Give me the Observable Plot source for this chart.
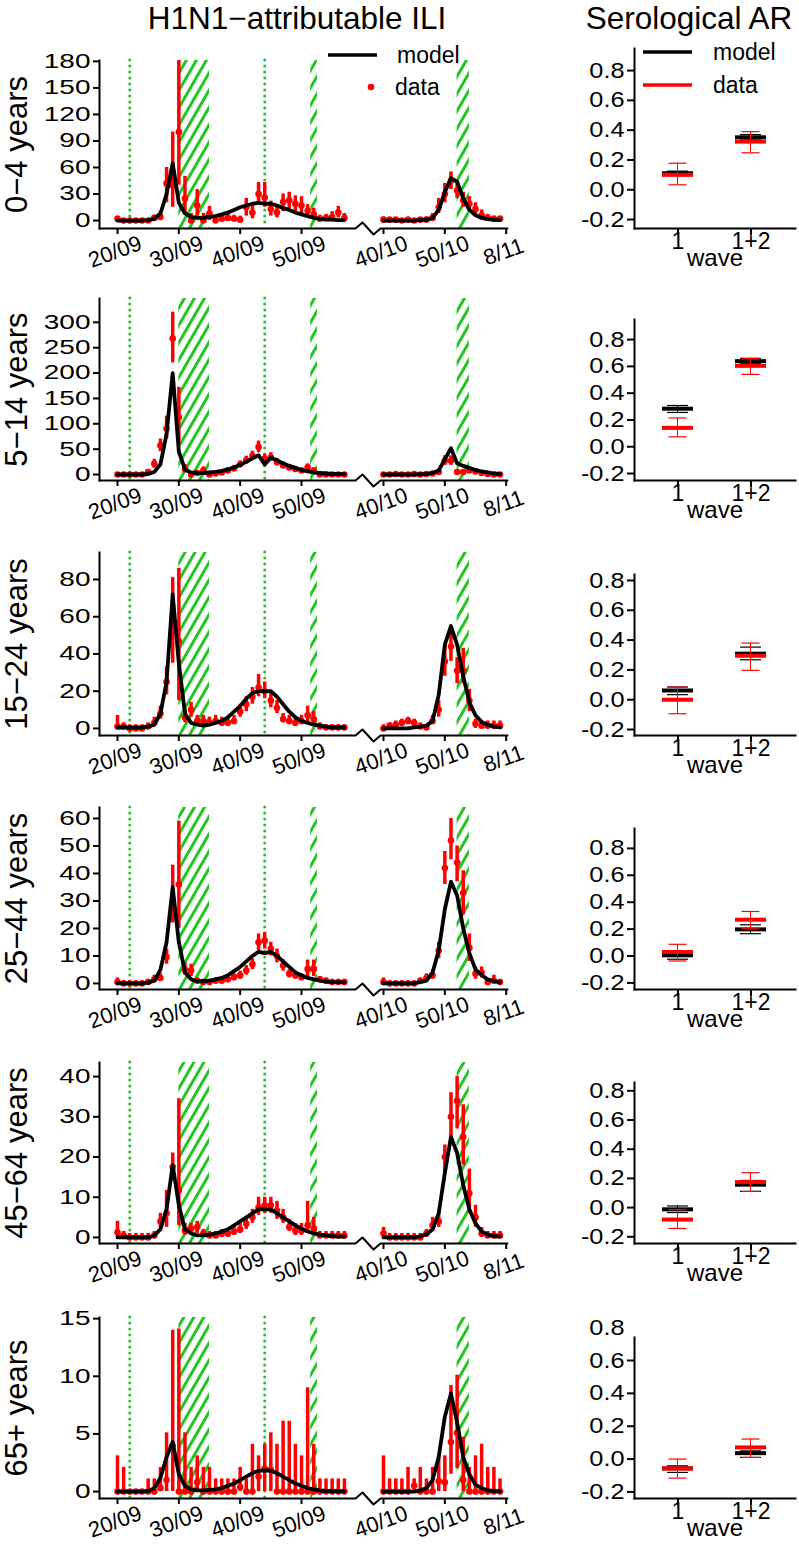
<!DOCTYPE html>
<html><head><meta charset="utf-8">
<script src="https://cdn.jsdelivr.net/npm/d3@7"></script>
<script src="https://cdn.jsdelivr.net/npm/@observablehq/plot@0.6"></script>
<style>
body{margin:0;background:#fff;font-family:"Liberation Sans",Arial,Helvetica,sans-serif;}
#chart{position:relative;width:799px;height:1549px;overflow:hidden;background:#fff;}
.title{position:absolute;font-size:31.5px;white-space:nowrap;transform:translate(-50%,-50%);color:#000;}
</style></head><body>
<div id="chart">
<svg width="0" height="0" style="position:absolute"><defs>
<pattern id="hatch" patternUnits="userSpaceOnUse" width="8.66" height="30" patternTransform="rotate(30)">
<line x1="4.33" y1="-5" x2="4.33" y2="35" stroke="#22c322" stroke-width="3"/>
</pattern></defs></svg>
</div>
<script>
// ---------------- data ----------------
const ageGroups = ["0−4 years","5−14 years","15−24 years","25−44 years","45−64 years","65+ years"];
const weeks2009 = d3.range(20, 58);   // 20/09 ... 57/09
const weeks2010 = d3.range(40, 60);   // 40/10 ... 59/10
const SEASON2_SHIFT = 23.37;          // broken axis: season 2 drawn after the gap
const xTickWeeks = [20, 30, 40, 50, 40 + SEASON2_SHIFT, 50 + SEASON2_SHIFT, 60 + SEASON2_SHIFT];
const xTickLabels = ["20/09","30/09","40/09","50/09","40/10","50/10","8/11"];
const holidays = [{start: 30, end: 35}, {start: 51.5, end: 52.6}, {start: 52 + SEASON2_SHIFT, end: 54 + SEASON2_SHIFT}];
const markerWeeks = [22, 44];

// each array: 38 weekly values for 2009 (weeks 20-57) then 20 for 2010 (weeks 40-59)
const ili04_mid = [2,0,0,0,0,0,3,4,42,40, 100,25,0,17,0,8,0,2,3,2, 1,15,9,30,26,13,9,21,23,19, 17,11,7,2,3,4,9,3, 1,1,1,0,1,0,1,1,3,15, 30,45,34,23,19,13,6,3,2,2];
const ili04_lo = [0,0,0,0,0,0,0,1,20,15, 40,8,0,5,0,0,0,0,0,0, 0,5,2,20,15,5,3,10,12,10, 8,4,2,0,0,0,3,0, 0,0,0,0,0,0,0,0,0,8, 20,35,25,15,12,7,2,0,0,0];
const ili04_hi = [5,2,2,2,2,2,6,10,60,100, 181,50,8,35,8,16,5,6,8,6, 5,25,18,43,43,22,18,30,32,28, 27,18,14,6,7,10,16,8, 4,3,3,2,3,2,3,4,8,25, 42,55,45,32,27,20,12,7,5,5];
const ili04_model = [0,0,0,0,0,0.5,2,8,30,65, 20,8,4,3,3,4,5,7,9,12, 15,17,19,20,19,19,17,14,12,9, 7,5,3,2,1,1,0.5,0.5, 0,0,0,0,0,0,0.5,1,3,12, 32,48,44,25,12,6,3,1.5,0.8,0.4];

const ili514_mid = [0,0,0,0,0,5,21,57,90,268, 113,11,0,3,8,0,2,4,8,12, 20,28,37,54,31,34,24,18,14,11, 8,14,8,0,0,0,0,0, 0,0,1,0,0,1,0,1,2,5, 27,27,5,5,8,6,3,1,0,0];
const ili514_lo = [0,0,0,0,0,1,12,45,70,220, 60,3,0,0,2,0,0,1,4,7, 14,21,29,43,23,26,17,12,9,6, 4,8,4,0,0,0,0,0, 0,0,0,0,0,0,0,0,0,1, 18,18,1,1,3,2,0,0,0,0];
const ili514_hi = [3,3,3,3,3,10,30,70,115,320, 172,20,5,8,15,5,5,8,13,18, 27,36,46,66,40,43,32,25,20,16, 13,21,13,3,3,3,3,3, 3,3,4,3,3,4,3,4,6,10, 37,37,10,10,14,11,7,4,3,3];
const ili514_model = [0,0,0,0,0,1,5,20,80,200, 45,10,4,3,3,4,5,7,10,14, 19,25,32,38,20,33,28,22,17,13, 9,6,4,3,2,1,1,0.5, 0,0,0,0,0,0,0.5,1,3,8, 30,52,22,17,13,9,6,4,2,1];

const ili1524_mid = [1,1,0,0,0,1,3,8,25,53, 47,6,10,4,4,3,4,3,3,4, 9,13,17,22,20,15,11,5,4,3, 4,7,5,1,0.5,0.5,0.5,0.5, 0,1.5,2,3,4,3,1,0.5,4,10, 36,44,31,31,15,2.5,1.5,1.5,1.5,1.5];
const ili1524_lo = [0,0,0,0,0,0,1,5,18,35, 15,3,6,2,2,1,2,1,1,2, 6,9,13,17,16,11,8,3,2,1, 2,3,2,0,0,0,0,0, 0,0,0,1,2,1,0,0,2,6, 28,36,24,24,9,0,0,0,0,0];
const ili1524_hi = [7,3,2,2,2,3,6,12,33,81, 86,10,14,7,7,6,7,6,6,7, 13,17,22,29,25,20,15,8,7,6, 7,12,9,3,2,2,2,2, 2,3,4,5,6,5,3,2,7,15, 45,52,38,43,21,5,4,4,4,4];
const ili1524_model = [0.5,0.5,0.5,0.5,0.5,1,2,8,25,72, 35,8,3,2,1.5,2,3,4,6,9, 12,16,19,20,20,20,17,13,9,6, 4,3,2,1.5,1,0.5,0.5,0.5, 0,0,0,0,0,0.5,1,1.5,4,18, 45,55,45,28,14,7,3.5,2,1,0.5];

const ili2544_mid = [0.5,0,0,0,0,0.5,1.5,2,9.6,28, 36,5,4.7,1,0.5,0.5,1,1,1.5,2.3, 3,4.7,7,15,15.6,12.6,10,6.5,3.5,3, 2.3,5.3,5.3,1.5,1,0.5,0.5,0.5, 0.5,0,0,0,0,0,1,2,3,12, 42,52,44,33,13,3.5,4,0.5,1,0.5];
const ili2544_lo = [0,0,0,0,0,0,0.5,1,7,22, 20,3,2.5,0,0,0,0,0,0.5,1, 1.5,3,5,12,12.5,10,7.5,4.5,2,1.5, 1,2.5,2.5,0.5,0,0,0,0, 0,0,0,0,0,0,0,0.5,1.5,9, 36,45,37,25,8,1.5,2,0,0,0];
const ili2544_hi = [2,1,1,1,1,1.5,3,3.5,12.5,43, 59,7.5,7,2,1.5,1.5,2,2,3,3.5, 4.5,6.5,9,18,18.5,15,12.5,8.5,5,4.5, 3.5,8.5,8.5,2.5,2,1.5,1.5,1.5, 2,1,1,1,1,1,2,3.5,5,15, 48,60,50,41,18,6,6,1.5,3,1.5];
const ili2544_model = [0,0,0,0,0,0.3,1,5,15,35, 15,4,1.5,0.8,0.8,1,1.5,2,3,4.5, 6,8,10,11.5,11,11.5,10,8,6,4, 3,2,1.5,1,0.7,0.5,0.5,0.4, 0,0,0,0,0,0,0.5,1,4,12, 27,37,32,20,11,5,3,1.5,0.8,0.4];

const ili4564_mid = [1.3,0.5,0,0,0,0,0.5,4,6,17.5, 11.7,1.7,2.2,2.6,1,0.5,0.5,1,1,1.5, 2,3.4,5,7.5,8,8,6.7,5,2.6,1.7, 1.7,3,2.2,0.5,0.5,0.5,0.5,0.5, 1,0,0,0,0,0,0,1,3,4, 20,30,34,25,11,5,1,0.5,0.5,0.5];
const ili4564_lo = [0,0,0,0,0,0,0,2.5,2.5,14, 3,0.5,1,1,0,0,0,0,0,0.5, 1,2,3.5,5.5,6,6,4.5,3.5,1.5,0.5, 0.5,1,0.5,0,0,0,0,0, 0,0,0,0,0,0,0,0,1.5,2.5, 16,24,27,18,6,2.5,0,0,0,0];
const ili4564_hi = [4,1.5,1,1,1,1,1.5,6,11.7,21, 34.5,3.5,3.5,4,2,1.5,1.5,2,2,3, 3.5,5,7,10,10,10,9,7,4.5,3.5, 3.5,9,5,1.5,1.5,1.5,1.5,1.5, 2.5,1,1,1,1,1,1,2,5,6, 23,36,40,33,17,8,2.5,1.5,1.5,1.5];
const ili4564_model = [0,0,0,0,0,0,0.5,2,7,18, 8,2,1,0.5,0.5,0.7,1,1.5,2,3, 4,5,6,7,7,7,6,5,4,3, 2.2,1.5,1,0.7,0.5,0.3,0.2,0.2, 0,0,0,0,0,0,0.3,0.8,2,6, 16,25,21,13,7,3.5,1.5,0.7,0.3,0.2];

const ili65_mid = [0,0,0,0,0,0,0,0.3,1,4, 0,0,0,0.8,0,0,0,0,0,0, 0.4,0,0,1.3,2,1.9,0,0,0,0, 0,0,0,0,0,0,0,0, 0,0,0,0,0,0.5,0,0,0,0.9, 0.8,4.3,5.1,1,0,0,0,0,0,0];
const ili65_lo = [0,0,0,0,0,0,0,0,0,0, 0,0,0,0,0,0,0,0,0,0, 0,0,0,0,0,0,0,0,0,0, 0,0,0,0,0,0,0,0, 0,0,0,0,0,0,0,0,0,0, 0,1.5,2,0,0,0,0,0,0,0];
const ili65_hi = [3.1,2.1,0,0,0,1.1,1.1,2.1,5.1,14, 14.1,5.1,2.1,3.1,2.1,2.1,1.1,1.1,1.1,1.1, 2.1,1.1,4.1,3.1,4.1,5.1,4.1,6.1,6.1,4.1, 3.1,9,4.1,1.1,1.1,1.1,1.1,1.1, 3.1,1.1,1.1,1.1,2.1,1.1,2.1,1.1,2.1,3.1, 3.1,9.2,10.1,4.7,2.1,3.1,4.1,2.1,2.1,1.1];
const ili65_model = [0,0,0,0,0,0.05,0.3,1.2,3,4.3, 1.5,0.5,0.2,0.1,0.1,0.15,0.2,0.3,0.5,0.7, 1,1.3,1.6,1.8,1.85,1.8,1.6,1.3,1,0.7, 0.5,0.3,0.2,0.1,0.05,0.03,0.02,0.01, 0,0,0,0,0,0,0.1,0.3,1,3, 6.5,8.5,6,3,1.5,0.6,0.3,0.1,0.05,0.02];

const leftYTicks = [[0,30,60,90,120,150,180],[0,50,100,150,200,250,300],[0,20,40,60,80],[0,10,20,30,40,50,60],[0,10,20,30,40],[0,5,10,15]];

// serological attack rates, waves "1" and "1+2"
const waves = ["1", "1+2"];
const seroTicks = [-0.2, 0.0, 0.2, 0.4, 0.6, 0.8];
const seroModel   = [[0.111,0.352],[0.284,0.639],[0.062,0.309],[0.005,0.198],[-0.012,0.157],[-0.057,0.036]];
const seroModelLo = [[0.100,0.340],[0.256,0.620],[0.034,0.268],[-0.024,0.166],[-0.034,0.111],[-0.081,0.010]];
const seroModelHi = [[0.125,0.370],[0.308,0.660],[0.085,0.353],[0.030,0.232],[0.011,0.186],[-0.041,0.050]];
const seroData    = [[0.100,0.323],[0.141,0.604],[0.000,0.295],[0.030,0.270],[-0.082,0.175],[-0.057,0.071]];
const seroDataLo  = [[0.033,0.248],[0.074,0.540],[-0.094,0.197],[-0.037,0.203],[-0.143,0.111],[-0.116,0.010]];
const seroDataHi  = [[0.178,0.390],[0.215,0.659],[0.085,0.380],[0.087,0.331],[-0.014,0.239],[0.000,0.122]];

const iliSeries = [
  [ili04_mid, ili04_lo, ili04_hi, ili04_model],
  [ili514_mid, ili514_lo, ili514_hi, ili514_model],
  [ili1524_mid, ili1524_lo, ili1524_hi, ili1524_model],
  [ili2544_mid, ili2544_lo, ili2544_hi, ili2544_model],
  [ili4564_mid, ili4564_lo, ili4564_hi, ili4564_model],
  [ili65_mid, ili65_lo, ili65_hi, ili65_model]
];

// ---------------- layout ----------------
const FONT = '"Liberation Sans", Arial, Helvetica, sans-serif';
const RED = "#ff0000", GREEN = "#22c322";
const leftTop = [60, 298, 552, 807, 1062, 1317];
const leftBottom = [228, 480, 735, 989, 1243, 1498];
const leftYDomain = [[-9,181],[-11.8,347],[-3.8,94.5],[-2.2,64],[-1.5,43.5],[-0.6,15.1]];
const rightTop = [48, 319, 574, 828, 1082, 1337];
const rightYDomain = [[-0.26,0.948],[-0.252,0.95],[-0.24,0.84],[-0.249,0.948],[-0.246,0.857],[-0.24,0.74]];
const PH = 254, AXB = 200; // plot height, axis baseline inside each svg

const chart = document.getElementById("chart");
function place(el, left, top) {
  el.style.position = "absolute"; el.style.left = left + "px"; el.style.top = top + "px";
  chart.appendChild(el);
}
// widen tick-label glyphs horizontally, as in the reference
function stretch(svg, sx) {
  svg.querySelectorAll('g[aria-label="y-axis tick label"] text').forEach(t => {
    t.setAttribute("transform", (t.getAttribute("transform") || "") + ` scale(${sx},1)`);
  });
}
const pxToWeek = p => 20 + (p - 117) * 30 / 184;

ageGroups.forEach((label, r) => {
  const [mid, lo, hi, model] = iliSeries[r];
  const pts = d3.range(58).map(i => ({
    t: i < 38 ? weeks2009[i] : weeks2010[i - 38] + SEASON2_SHIFT,
    season: i < 38 ? 1 : 2,
    mid: mid[i], lo: lo[i], hi: hi[i], model: model[i]
  }));
  const [y0, y1] = leftYDomain[r];
  const T = leftBottom[r] - AXB;
  const unitPerPx = (y1 - y0) / (leftBottom[r] - leftTop[r]);
  // broken x-axis line with zig-zag
  const axisLine = [[99,0],[355,0],[362,-6],[373,6],[380,0],[507,0]].map(([p, d]) => ({t: pxToWeek(p), y: y0 - d * unitPerPx}));
  const xTicks = xTickWeeks.map((t, i) => ({t, label: xTickLabels[i]}));

  const left = Plot.plot({
    width: 520, height: PH,
    marginLeft: 99, marginRight: 13, marginTop: AXB - (leftBottom[r] - leftTop[r]), marginBottom: PH - AXB,
    x: {domain: [20, 50], range: [117, 301], axis: null, label: null},
    y: {domain: [y0, y1], axis: null, label: null},
    style: {fontFamily: FONT, background: "transparent", overflow: "visible", color: "black"},
    marks: [
      Plot.rect(holidays, {x1: "start", x2: "end", fill: "url(#hatch)"}),
      Plot.ruleX(markerWeeks, {stroke: GREEN, strokeWidth: 3, strokeDasharray: "0 6", strokeLinecap: "round"}),
      Plot.ruleX(pts, {x: "t", y1: "lo", y2: "hi", stroke: RED, strokeWidth: 3.5}),
      Plot.dot(pts, {x: "t", y: "mid", r: 3.3, fill: RED}),
      Plot.line(pts, {x: "t", y: "model", z: "season", stroke: "black", strokeWidth: 3.8}),
      Plot.frame({anchor: "left", strokeWidth: 2}),
      Plot.line(axisLine, {x: "t", y: "y", stroke: "black", strokeWidth: 2}),
      Plot.axisX({ticks: xTickWeeks, tickSize: 6, strokeWidth: 2, fill: "none", label: null}),
      Plot.text(xTicks, {x: "t", text: "label", frameAnchor: "bottom", dy: 30, rotate: -20, fontSize: 22}),
      Plot.axisY({ticks: leftYTicks[r], tickSize: 6, tickPadding: 3, strokeWidth: 2, fontSize: 20, label: null}),
      Plot.text([label], {frameAnchor: "left", textAnchor: "middle", rotate: -90, dx: -82, fontSize: 31})
    ]
  });
  stretch(left, 1.4);
  place(left, 0, T);

  // serological panel
  const sero = waves.map((w, j) => ({
    wave: w, model: seroModel[r][j], mlo: seroModelLo[r][j], mhi: seroModelHi[r][j],
    data: seroData[r][j], dlo: seroDataLo[r][j], dhi: seroDataHi[r][j]
  }));
  const [s0, s1] = rightYDomain[r];
  const right = Plot.plot({
    width: 279, height: PH,
    marginLeft: 114, marginRight: 4, marginTop: AXB - (leftBottom[r] - rightTop[r]), marginBottom: PH - AXB,
    x: {type: "band", domain: waves, paddingInner: 0.575, paddingOuter: 0.38, axis: null, label: null},
    y: {domain: [s0, s1], axis: null, label: null},
    style: {fontFamily: FONT, background: "transparent", overflow: "visible", color: "black"},
    marks: [
      Plot.frame({anchor: "left", strokeWidth: 2}),
      Plot.frame({anchor: "bottom", strokeWidth: 2}),
      Plot.axisY({ticks: seroTicks.filter(d => d >= s0 && d <= s1), tickSize: 7, strokeWidth: 2, fill: "none", label: null}),
      Plot.axisY({ticks: seroTicks, tickSize: 0, tickPadding: 10, fontSize: 22, tickFormat: d => d.toFixed(1), label: null}),
      Plot.axisX({tickSize: 7, strokeWidth: 2, fontSize: 23, tickPadding: -3, label: null}),
      Plot.text(["wave"], {frameAnchor: "bottom", dy: 37, fontSize: 24}),
      Plot.barY(sero, {x: "wave", y1: "mlo", y2: "mhi", fill: "black", insetLeft: 15, insetRight: 15}),
      Plot.tickY(sero, {x: "wave", y: "mlo", stroke: "black", strokeWidth: 1.2, insetLeft: 5, insetRight: 5}),
      Plot.tickY(sero, {x: "wave", y: "mhi", stroke: "black", strokeWidth: 1.2, insetLeft: 5, insetRight: 5}),
      Plot.tickY(sero, {x: "wave", y: "model", stroke: "black", strokeWidth: 4}),
      Plot.barY(sero, {x: "wave", y1: "dlo", y2: "dhi", fill: RED, insetLeft: 15, insetRight: 15}),
      Plot.tickY(sero, {x: "wave", y: "dlo", stroke: RED, strokeWidth: 1.2, insetLeft: 6.5, insetRight: 6.5}),
      Plot.tickY(sero, {x: "wave", y: "dhi", stroke: RED, strokeWidth: 1.2, insetLeft: 6.5, insetRight: 6.5}),
      Plot.tickY(sero, {x: "wave", y: "data", stroke: RED, strokeWidth: 4})
    ]
  });
  stretch(right, 1.15);
  place(right, 520, T);
});

// titles
[["H1N1−attributable ILI", 297, 18], ["Serological AR", 689, 18]].forEach(([txt, x, y]) => {
  const d = document.createElement("div");
  d.className = "title"; d.textContent = txt; d.style.left = x + "px"; d.style.top = y + "px";
  chart.appendChild(d);
});

// legends
const ns = "http://www.w3.org/2000/svg";
const leg = document.createElementNS(ns, "svg");
leg.setAttribute("width", 799); leg.setAttribute("height", 120);
leg.style.position = "absolute"; leg.style.left = "0px"; leg.style.top = "0px";
leg.innerHTML = `
<g font-family='${FONT}' font-size="23" dominant-baseline="central">
<line x1="328" y1="55" x2="377" y2="55" stroke="black" stroke-width="3.5"/>
<text x="397" y="55">model</text>
<circle cx="371" cy="87" r="3.3" fill="${RED}"/>
<text x="395" y="87">data</text>
<line x1="643" y1="52" x2="692" y2="52" stroke="black" stroke-width="3.5"/>
<text x="713" y="52">model</text>
<line x1="643" y1="85" x2="692" y2="85" stroke="${RED}" stroke-width="3.5"/>
<text x="713" y="85">data</text>
</g>`;
chart.appendChild(leg);
</script>
</body></html>
